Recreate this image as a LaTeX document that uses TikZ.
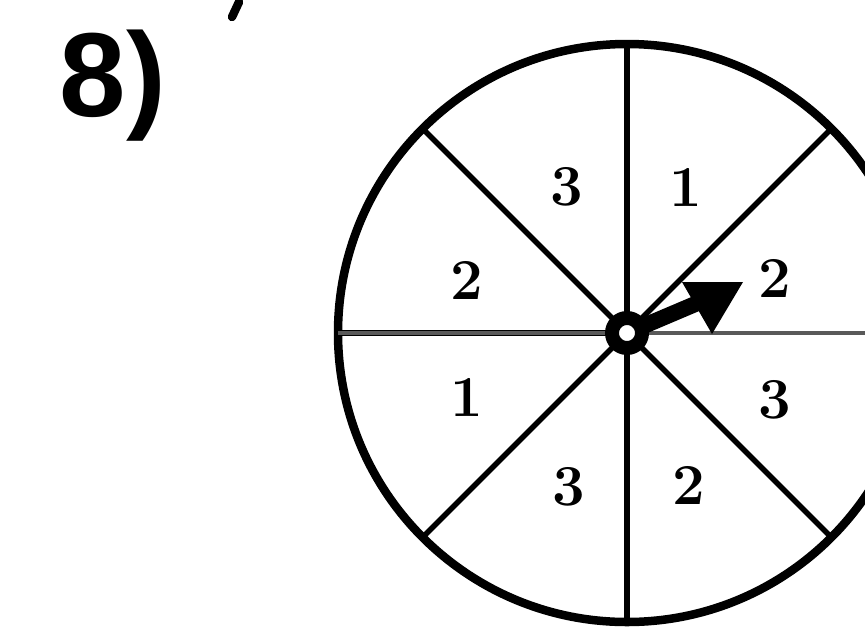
\documentclass[tikz,border=0pt]{standalone}
\usepackage{fontspec}
\setsansfont{Liberation Sans}
\tikzset{
  rim/.style = {line width=0.17cm},
  spoke/.style = {line width=0.11cm},
  sector/.style = {font=\fontsize{33}{33}\selectfont\bfseries},
  hub/.style = {circle, draw, line width=0.28cm, fill=white, minimum size=0.6cm, inner sep=0pt}
}
\begin{document}
\begin{tikzpicture} [x=0.02cm, y=-0.02cm]
	\useasboundingbox (0,0) rectangle (865,640);
	\clip (0,0) rectangle (865,640);
	\node [font=\sffamily\bfseries\fontsize{68}{68}\selectfont] (num) at (113,86) {8)};
	\draw [line width=0.17cm, line cap=round] (239,2) -- (232,17);
	\coordinate (c) at (627,333);
	\draw [rim] (c) circle (289);
	\foreach \a in {45,90,...,315}
		\draw [spoke] (c) -- ++(\a:289);
	\draw [spoke, gray!70!black, line width=0.08cm] (c) -- ++(0:289);
	\draw [spoke, gray!70!black, line width=0.08cm] (c) -- ++(180:289);
	\node [sector] (s1) at (567,187) {3};
	\node [sector] (s2) at (686,187) {1};
	\node [sector] (s3) at (775,278) {2};
	\node [sector] (s4) at (775,400) {3};
	\node [sector] (s5) at (689,485) {2};
	\node [sector] (s6) at (569,487) {3};
	\node [sector] (s7) at (467,397) {1};
	\node [sector] (s8) at (467,280) {2};
	% pointer
	\draw [line width=0.32cm] (c) -- (700,302);
	\fill (682,282) -- (743,282) -- (712,334) -- cycle;
	\node [hub] (h) at (c) {};
\end{tikzpicture}
\end{document}
